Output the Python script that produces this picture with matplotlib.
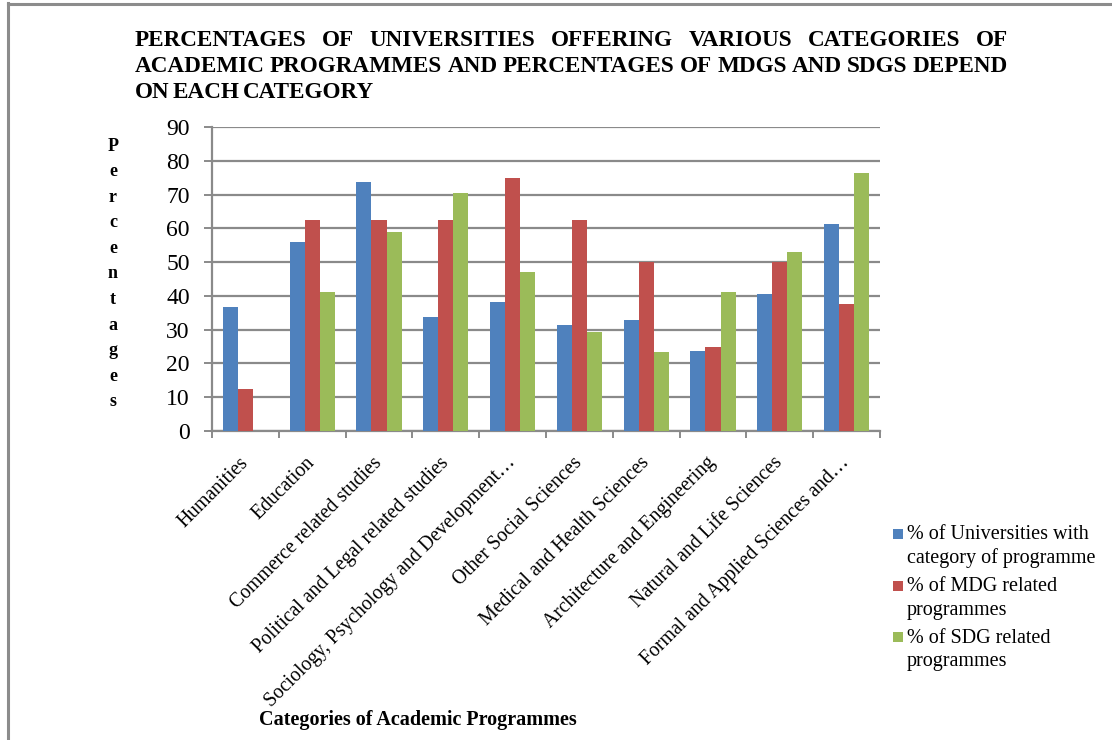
import matplotlib
matplotlib.use("Agg")
import matplotlib.pyplot as plt
import numpy as np
from matplotlib.lines import Line2D
from matplotlib.patches import Rectangle
from matplotlib.legend_handler import HandlerPatch

categories = ["Humanities", "Education", "Commerce related studies",
              "Political and Legal related studies",
              "Sociology, Psychology and Development\u2026",
              "Other Social Sciences", "Medical and Health Sciences",
              "Architecture and Engineering", "Natural and Life Sciences",
              "Formal and Applied Sciences and\u2026"]
universities = [36.7, 56.1, 73.6, 33.7, 38.3, 31.3, 33.0, 23.7, 40.7, 61.3]
mdg = [12.5, 62.5, 62.5, 62.5, 75.0, 62.5, 50.0, 25.0, 50.0, 37.5]
sdg = [0.0, 41.2, 58.8, 70.6, 47.1, 29.4, 23.5, 41.2, 52.9, 76.5]
series_names = ["% of Universities with\ncategory of programme",
                "% of MDG related\nprogrammes",
                "% of SDG related\nprogrammes"]
colors = ["#4F81BD", "#C0504D", "#9BBB59"]
yticks = list(range(0, 91, 10))

W, H = 1112, 740
fig = plt.figure(figsize=(W / 100, H / 100), dpi=100)
plt.rcParams['font.family'] = ['Liberation Serif', 'DejaVu Serif']

def fx(px):
    return px / W

def fy(py):
    return 1 - py / H

# figure frame (top and left visible)
fig.add_artist(Line2D([fx(8), fx(8)], [fy(3), fy(745)], color="#8c8c8c", lw=2.2))
fig.add_artist(Line2D([fx(8), fx(1120)], [fy(3.5), fy(3.5)], color="#8c8c8c", lw=2.2))

ax = fig.add_axes([fx(212), fy(431), fx(880) - fx(212), fy(127) - fy(431)])
x = np.arange(len(categories))
bw = 0.225
bars = []
for k, (vals, c) in enumerate(zip([universities, mdg, sdg], colors)):
    bars.append(ax.bar(x + (k - 1) * bw, vals, width=bw, color=c,
                       label=series_names[k], zorder=3))

ax.set_xlim(-0.5, len(categories) - 0.5)
ax.set_ylim(0, 90)
ax.set_yticks(yticks)
ax.set_yticklabels([str(v) for v in yticks], fontsize=17)
ax.yaxis.grid(True, color="#8a8a8a", lw=1.6, zorder=0)
ax.set_axisbelow(True)
for s in ["top", "right"]:
    ax.spines[s].set_visible(False)
for s in ["left", "bottom"]:
    ax.spines[s].set_color("#8a8a8a")
    ax.spines[s].set_linewidth(1.6)
ax.tick_params(axis="y", length=6, width=1.4, color="#8a8a8a", pad=10)
ax.set_xticks(x)
ax.set_xticklabels(categories, rotation=45, ha="right", va="center",
                   rotation_mode="anchor", fontsize=14.2)
ax.tick_params(axis="x", which="major", length=0, pad=21)
ax.set_xticks(np.arange(-0.5, len(categories), 1.0), minor=True)
ax.tick_params(axis="x", which="minor", length=5, width=1.4, color="#8a8a8a")

# axis titles
fig.text(fx(113), fy(274), "\n".join("Percentages"), ha="center", va="center",
         fontsize=13, fontweight="bold", linespacing=1.66)
fig.text(fx(418), fy(720), "Categories of Academic Programmes", ha="center", va="center",
         fontsize=14.5, fontweight="bold")

# legend with square markers aligned to first text line
def top_square(legend, orig_handle, xdescent, ydescent, width, height, fontsize):
    s = 0.5 * fontsize
    return Rectangle((-xdescent, -ydescent + height / 2 - s / 2 + 0.62 * fontsize), s, s)

handles = [b.patches[0] for b in bars]
leg = fig.legend(handles, series_names, loc="upper left",
                 bbox_to_anchor=(fx(893), fy(525)), frameon=False,
                 fontsize=14.5, handlelength=0.5, handleheight=0.5, handletextpad=0.2,
                 labelspacing=0.45, borderaxespad=0, borderpad=0,
                 handler_map={Rectangle: HandlerPatch(patch_func=top_square)})
for t in leg.get_texts():
    t.set_linespacing(1.3)

# justified title
fig.canvas.draw()
renderer = fig.canvas.get_renderer()
TS = 16.7

def title_line(text, ybase, x0, x1, justify=True):
    words = text.split()
    ts = [fig.text(0, fy(ybase), w, fontsize=TS, fontweight="bold", va="baseline")
          for w in words]
    widths = [t.get_window_extent(renderer).width for t in ts]
    if justify:
        gap = ((x1 - x0) - sum(widths)) / (len(words) - 1)
    else:
        sp = fig.text(0, 0, "A A", fontsize=TS, fontweight="bold")
        sp2 = fig.text(0, 0, "AA", fontsize=TS, fontweight="bold")
        gap = sp.get_window_extent(renderer).width - sp2.get_window_extent(renderer).width
        sp.remove(); sp2.remove()
    xp = x0
    for t, w in zip(ts, widths):
        t.set_x(fx(xp))
        xp += w + gap

title_line("PERCENTAGES OF UNIVERSITIES OFFERING VARIOUS CATEGORIES OF", 46, 135, 1008)
title_line("ACADEMIC PROGRAMMES AND PERCENTAGES OF MDGS AND SDGS DEPEND", 72, 135, 1008)
title_line("ON EACH CATEGORY", 98, 135, 1008, justify=False)

fig.savefig("out.png", dpi=100, facecolor="white")
